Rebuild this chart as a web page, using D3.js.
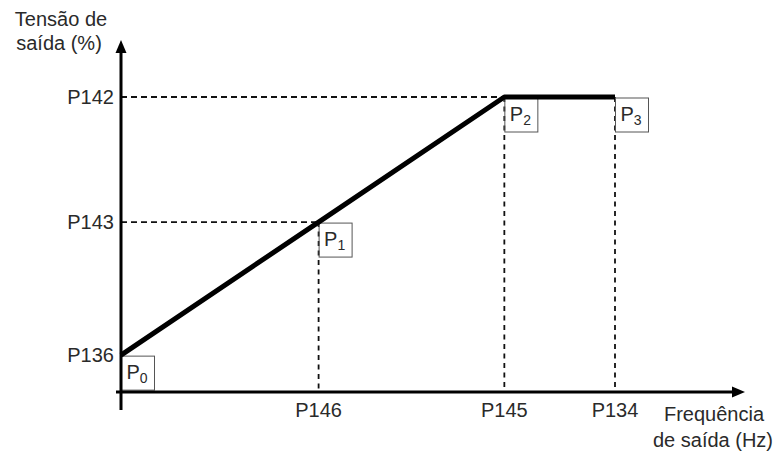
<!DOCTYPE html>
<html><head><meta charset="utf-8">
<script src="https://cdn.jsdelivr.net/npm/d3@7"></script>
<style>
html,body{margin:0;padding:0;background:#fff;}
text{font-family:"Liberation Sans",Arial,sans-serif;fill:#2a2a2a;}
</style></head>
<body><svg id="c" width="776" height="453"></svg>
<script>
// Data (abstract units)
const pointNames = ["P0","P1","P2","P3"];
const pointSubs = ["0","1","2","3"];
const freqValues = [0, 40, 77.6, 100];      // x position of P0..P3
const voltValues = [12.5, 57.6, 100, 100];  // y position of P0..P3
const xTickLabels = ["P146","P145","P134"];
const xTickValues = [40, 77.6, 100];
const yTickLabels = ["P136","P143","P142"];
const yTickValues = [12.5, 57.6, 100];
const yAxisTitle = ["Tensão de","saída (%)"];
const xAxisTitle = ["Frequência","de saída (Hz)"];

const svg = d3.select("#c");
const x = d3.scaleLinear().domain([0,100]).range([121,615]);
const y = d3.scaleLinear().domain([0,100]).range([392,97]);

const fs = 20;

// dashed guides
const dash = "6,4";
[1,2].forEach(i=>{
  svg.append("line").attr("x1",x(0)).attr("x2",x(freqValues[i])).attr("y1",y(voltValues[i])).attr("y2",y(voltValues[i]))
    .attr("stroke","#111").attr("stroke-width",1.8).attr("stroke-dasharray",dash);
});
[1,2,3].forEach(i=>{
  svg.append("line").attr("x1",x(freqValues[i])).attr("x2",x(freqValues[i])).attr("y1",y(voltValues[i])).attr("y2",y(0))
    .attr("stroke","#111").attr("stroke-width",1.8).attr("stroke-dasharray","5,4.5");
});

// boxes
const boxW = 33, boxH = 34;
pointNames.forEach((n,i)=>{
  const px = x(freqValues[i]), py = y(voltValues[i]);
  const bx = px + 0.5, by = py + 1;
  svg.append("rect").attr("x",bx).attr("y",by).attr("width",boxW).attr("height",boxH)
    .attr("fill","none").attr("stroke","#555").attr("stroke-width",1);
  const t = svg.append("text").attr("x",bx+5).attr("y",by+23).attr("font-size",fs);
  t.append("tspan").text("P");
  t.append("tspan").attr("font-size",14).attr("dy",4).text(pointSubs[i]);
});

// axes
svg.append("line").attr("x1",121).attr("x2",121).attr("y1",410).attr("y2",50)
  .attr("stroke","#000").attr("stroke-width",3);
svg.append("path").attr("d","M121,40 L115.5,53 L126.5,53 Z").attr("fill","#000");
svg.append("line").attr("x1",116).attr("x2",735).attr("y1",392).attr("y2",392)
  .attr("stroke","#000").attr("stroke-width",3);
svg.append("path").attr("d","M745,392 L732,386.5 L732,397.5 Z").attr("fill","#000");

// main curve
const line = d3.line().x((d,i)=>x(freqValues[i])).y((d,i)=>y(voltValues[i]));
svg.append("path").datum(pointNames).attr("d",line)
  .attr("fill","none").attr("stroke","#000").attr("stroke-width",5).attr("stroke-linejoin","round");

// tick labels
xTickLabels.forEach((l,i)=>{
  svg.append("text").attr("x",x(xTickValues[i])).attr("y",417).attr("text-anchor","middle").attr("font-size",fs).text(l);
});
yTickLabels.forEach((l,i)=>{
  svg.append("text").attr("x",114).attr("y",y(yTickValues[i])+7).attr("text-anchor","end").attr("font-size",fs).text(l);
});

// axis titles
svg.append("text").attr("x",61).attr("y",26).attr("text-anchor","middle").attr("font-size",fs).text(yAxisTitle[0]);
svg.append("text").attr("x",59).attr("y",50).attr("text-anchor","middle").attr("font-size",fs).text(yAxisTitle[1]);
svg.append("text").attr("x",714).attr("y",421).attr("text-anchor","middle").attr("font-size",fs).text(xAxisTitle[0]);
svg.append("text").attr("x",713).attr("y",447).attr("text-anchor","middle").attr("font-size",fs).text(xAxisTitle[1]);
</script></body></html>
